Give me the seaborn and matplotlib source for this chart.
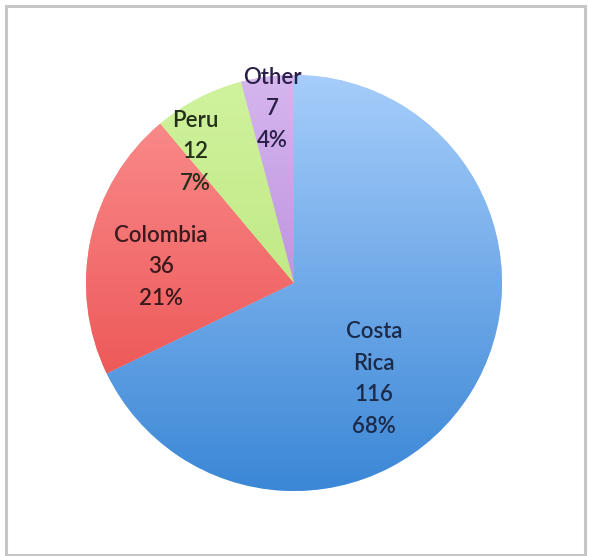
import numpy as np
import matplotlib
matplotlib.use("Agg")
import matplotlib.pyplot as plt
import seaborn as sns
from matplotlib.colors import LinearSegmentedColormap
from matplotlib.patches import Rectangle

categories = ["Costa Rica", "Colombia", "Peru", "Other"]
values = [116, 36, 12, 7]
label_names = ["Costa\nRica", "Colombia", "Peru", "Other"]
top_colors = ["#a6cdfb", "#fc9292", "#d0f29e", "#d6b6ee"]
bottom_colors = ["#3b87d6", "#e84343", "#b2e26e", "#a574d2"]
# label placement (polar, in pie-radius units)
label_angle = [-50.2, 173.1, 126.9, 97.2]
label_radius = [0.60, 0.645, 0.79, 0.845]

sns.set_theme(style="white")
plt.rcParams['font.family'] = ['Lato', 'DejaVu Sans']

fig = plt.figure(figsize=(5.89, 5.56), dpi=100)
fig.patch.set_facecolor("white")
# outer gray frame
fig.add_artist(Rectangle((5.5 / 589, 1 - 555 / 556), 579 / 589, 549 / 556,
                         transform=fig.transFigure, fill=False,
                         edgecolor="#c6c6c6", linewidth=2.2))

ax = fig.add_axes([86 / 589, (556 - 491) / 556, 416 / 589, 416 / 556])
wedges, _ = ax.pie(values, startangle=90, counterclock=False, radius=1,
                   colors=top_colors, wedgeprops=dict(linewidth=0))
ax.set_xlim(-1, 1)
ax.set_ylim(-1, 1)

grad = np.linspace(0, 1, 256).reshape(-1, 1)
for w, c0, c1 in zip(wedges, top_colors, bottom_colors):
    cmap = LinearSegmentedColormap.from_list("g", [c0, c1])
    im = ax.imshow(grad, cmap=cmap, extent=[-1, 1, -1, 1], origin="upper",
                   aspect="auto", zorder=w.get_zorder() + 0.1,
                   interpolation="bilinear")
    im.set_clip_path(w)
ax.set_xlim(-1, 1)
ax.set_ylim(-1, 1)

total = sum(values)
text_colors = ["#1c2a48", "#3a1a1e", "#24301a", "#2a1f48"]
for name, v, a, r, tc in zip(label_names, values, label_angle, label_radius, text_colors):
    pct = round(v / total * 100)
    x = r * np.cos(np.deg2rad(a))
    y = r * np.sin(np.deg2rad(a))
    ax.text(x, y, f"{name}\n{v}\n{pct}%", ha="center", va="center",
            fontsize=16, fontweight="semibold", color=tc, linespacing=1.62,
            zorder=10)
ax.axis("off")

fig.savefig("out.png", dpi=100)
